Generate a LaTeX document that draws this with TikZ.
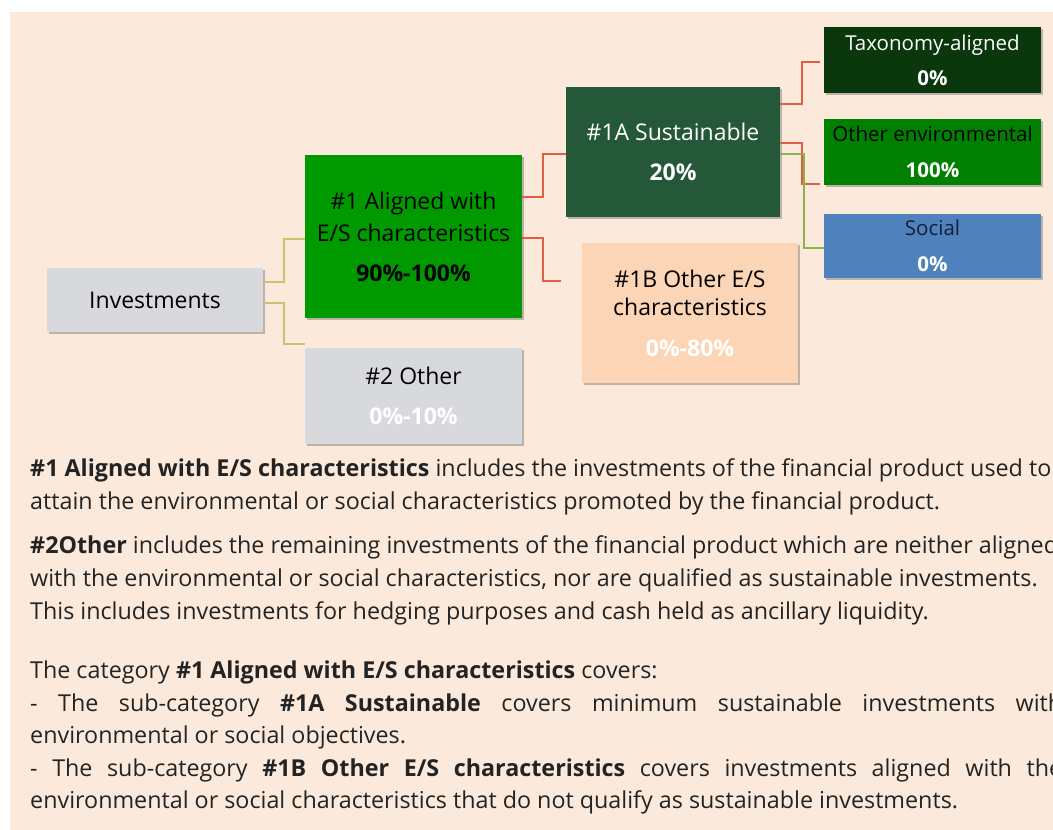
\documentclass[tikz,border=0pt]{standalone}
\usepackage{fontspec}
\setmainfont{Open Sans}
\usetikzlibrary{shadows}
\definecolor{bgpeach}{RGB}{251,233,219}
\definecolor{boxgray}{RGB}{216,217,220}
\definecolor{brightgreen}{RGB}{0,153,0}
\definecolor{darkgreen}{RGB}{36,88,56}
\definecolor{deepgreen}{RGB}{10,56,12}
\definecolor{midgreen}{RGB}{0,128,0}
\definecolor{socialblue}{RGB}{79,129,189}
\definecolor{peachbox}{RGB}{251,213,181}
\definecolor{navytext}{RGB}{20,30,55}
\definecolor{redline}{RGB}{222,95,65}
\definecolor{khakiline}{RGB}{205,192,115}
\definecolor{greenline}{RGB}{140,180,75}
\definecolor{bodytext}{RGB}{35,35,35}
\tikzset{
  box/.style={rectangle, inner sep=0pt, align=center,
    font=\fontsize{20.5}{32}\selectfont,
    drop shadow={shadow xshift=2pt, shadow yshift=-2pt, opacity=0.35, fill=black!70}},
  bigbox/.style={box, font=\fontsize{23}{32}\selectfont},
  conn/.style={line width=1.8pt},
  bodyline/.style={anchor=base west, inner sep=0pt, text=bodytext, font=\fontsize{23.3}{28}\selectfont},
}
\begin{document}
\begin{tikzpicture}[x=1pt,y=-1pt]
\clip (0,0) rectangle (1053,830);
\fill[white] (0,0) rectangle (1053,830);
\fill[bgpeach] (10,12) rectangle (1053,830);

% boxes
\node[bigbox, fill=boxgray, minimum width=216pt, minimum height=64pt] (inv) at (155,300) {Investments};
\node[bigbox, fill=brightgreen, minimum width=217pt, minimum height=163pt] (al) at (413.5,236.5)
  {\#1 Aligned with\\E/S characteristics\\[8pt]\textbf{90\%-100\%}};
\node[bigbox, fill=boxgray, minimum width=217pt, minimum height=96pt] (two) at (413.5,396)
  {\#2 Other\\[8pt]{\color{white}\textbf{0\%-10\%}}};
\node[bigbox, fill=darkgreen, text=white, minimum width=214pt, minimum height=130pt] (sust) at (673,152)
  {\#1A Sustainable\\[8pt]\textbf{20\%}};
\node[bigbox, fill=peachbox, minimum width=216pt, minimum height=140pt] (oes) at (690,313)
  {\#1B Other E/S\\[-4pt]characteristics\\[9pt]{\color{white}\textbf{0\%-80\%}}};
\node[box, fill=deepgreen, text=white, minimum width=217pt, minimum height=66pt] (tax) at (932.5,60)
  {Taxonomy-aligned\\[3pt]\textbf{0\%}};
\node[box, fill=midgreen, minimum width=217pt, minimum height=66pt] (oenv) at (932.5,152)
  {Other environmental\\[4pt]{\color{white}\textbf{100\%}}};
\node[box, fill=socialblue, minimum width=217pt, minimum height=64pt] (soc) at (932.5,246)
  {{\color{navytext}Social}\\[4pt]{\color{white}\textbf{0\%}}};

% connectors
\draw[conn, khakiline] (inv.east |- 0,282) -- (284,282) |- (al.west |- 0,239);
\draw[conn, khakiline] (inv.east |- 0,303) -- (284,303) |- (two.west |- 0,344);
\draw[conn, redline] (al.east |- 0,197) -- (543,197) |- (sust.west |- 0,154);
\draw[conn, redline, shorten >=21pt] (al.east |- 0,238) -- (543,238) |- (oes.west |- 0,281);
\draw[conn, redline, shorten >=4pt] (sust.east |- 0,104) -- (802,104) |- (tax.west |- 0,62);
\draw[conn, redline, shorten >=4pt] (sust.east |- 0,143) -- (802,143) |- (oenv.west |- 0,184);
\draw[conn, greenline] (sust.east |- 0,154) -- (804,154) |- (soc.west |- 0,248);

% body text
\node[bodyline] (t1) at (30,476) {\textbf{\#1 Aligned with E/S characteristics} includes the investments of the financial product used to};
\node[bodyline] (t2) at (30,509) {attain the environmental or social characteristics promoted by the financial product.};
\node[bodyline] (t3) at (30,553) {\textbf{\#2Other} includes the remaining investments of the financial product which are neither aligned};
\node[bodyline] (t4) at (30,586) {with the environmental or social characteristics, nor are qualified as sustainable investments.};
\node[bodyline] (t5) at (30,619) {This includes investments for hedging purposes and cash held as ancillary liquidity.};
\node[bodyline] (t6) at (30,678) {The category \textbf{\#1 Aligned with E/S characteristics} covers:};
\node[bodyline] (t7) at (30,711) {\makebox[1032pt][s]{- The sub-category \textbf{\#1A Sustainable} covers minimum sustainable investments with}};
\node[bodyline] (t8) at (30,743) {environmental or social objectives.};
\node[bodyline] (t9) at (30,776) {\makebox[1032pt][s]{- The sub-category \textbf{\#1B Other E/S characteristics} covers investments aligned with the}};
\node[bodyline] (t10) at (30,808) {environmental or social characteristics that do not qualify as sustainable investments.};
\end{tikzpicture}
\end{document}
